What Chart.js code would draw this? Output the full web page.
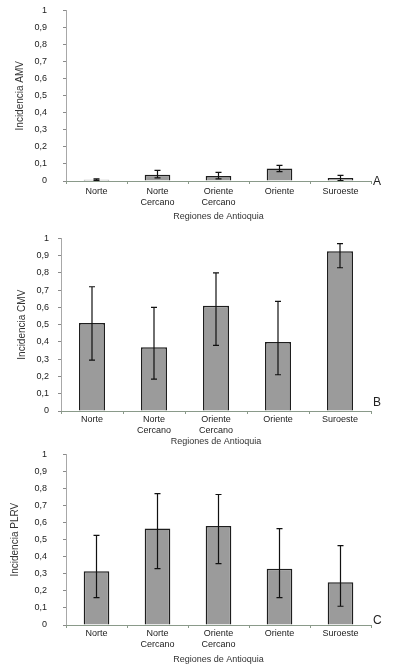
<!DOCTYPE html>
<html>
<head>
<meta charset="utf-8">
<script src="https://cdn.jsdelivr.net/npm/chart.js@4"></script>
<style>
  html,body{margin:0;padding:0;background:#fff;}
  body{width:396px;height:670px;position:relative;overflow:hidden;font-family:"Liberation Sans",Arial,sans-serif;}
  .panel{position:absolute;left:0;width:396px;}
  .letter{position:absolute;font-size:12px;color:#222;}
</style>
</head>
<body>
<div class="panel" id="pA" style="top:-11px;height:235px;"><canvas id="cA"></canvas></div>
<div class="panel" id="pB" style="top:224px;height:224px;"><canvas id="cB"></canvas></div>
<div class="panel" id="pC" style="top:433px;height:237px;"><canvas id="cC"></canvas></div>
<div class="letter" style="left:373px;top:174px;">A</div>
<div class="letter" style="left:373px;top:395px;">B</div>
<div class="letter" style="left:373px;top:613px;">C</div>
<script>
// ---- data ----
const categories = [["Norte"], ["Norte", "Cercano"], ["Oriente", "Cercano"], ["Oriente"], ["Suroeste"]];
const yTickLabels = ["0", "0,1", "0,2", "0,3", "0,4", "0,5", "0,6", "0,7", "0,8", "0,9", "1"];

const amvValues = [0.008, 0.037, 0.030, 0.073, 0.017];
const amvErrLow = [0.004, 0.018, 0.012, 0.055, 0.003];
const amvErrHigh = [0.012, 0.062, 0.050, 0.092, 0.033];

const cmvValues = [0.51, 0.37, 0.61, 0.40, 0.925];
const cmvErrLow = [0.295, 0.185, 0.38, 0.21, 0.83];
const cmvErrHigh = [0.72, 0.60, 0.80, 0.635, 0.97];

const plrvValues = [0.315, 0.565, 0.58, 0.33, 0.25];
const plrvErrLow = [0.16, 0.33, 0.36, 0.16, 0.11];
const plrvErrHigh = [0.525, 0.77, 0.765, 0.565, 0.465];

const xTitle = "Regiones de Antioquia";

const FONT = "'Liberation Sans', Arial, sans-serif";

const errorBarPlugin = {
  id: 'errorBars',
  afterDatasetsDraw(chart, args, opts) {
    const ctx = chart.ctx;
    const xs = chart.scales.x, ys = chart.scales.y;
    ctx.save();
    ctx.strokeStyle = '#111';
    ctx.lineWidth = 1.2;
    opts.low.forEach((lo, i) => {
      const hi = opts.high[i];
      const x = xs.getPixelForValue(i);
      const y1 = ys.getPixelForValue(lo), y2 = ys.getPixelForValue(hi);
      ctx.beginPath();
      ctx.moveTo(x, y1); ctx.lineTo(x, y2);
      ctx.moveTo(x - 3, y1); ctx.lineTo(x + 3, y1);
      ctx.moveTo(x - 3, y2); ctx.lineTo(x + 3, y2);
      ctx.stroke();
    });
    ctx.restore();
  }
};

function makeChart(id, values, lo, hi, yTitle, cfg) {
  return new Chart(document.getElementById(id), {
    type: 'bar',
    data: {
      labels: categories,
      datasets: [{
        data: values,
        backgroundColor: '#9b9b9b',
        borderColor: '#1e1e1e',
        borderWidth: 1.5,
        barPercentage: 0.42,
        categoryPercentage: 1.0
      }]
    },
    plugins: [errorBarPlugin],
    options: {
      responsive: true,
      maintainAspectRatio: false,
      animation: false,
      layout: { padding: { top: cfg.padTop, right: cfg.padRight, left: 0, bottom: cfg.padBottom } },
      plugins: {
        legend: { display: false },
        tooltip: { enabled: false },
        errorBars: { low: lo, high: hi }
      },
      scales: {
        y: {
          min: 0, max: 1,
          afterFit(s) { s.width = cfg.axisLeft; },
          ticks: {
            stepSize: 0.1,
            padding: cfg.yTickPad,
            color: '#222',
            font: { family: FONT, size: 9 },
            callback: (v, i) => yTickLabels[i]
          },
          grid: { display: true, drawOnChartArea: false, drawTicks: true, tickLength: 3, color: '#8a8a8a', lineWidth: 1 },
          border: { display: true, color: '#a8a8a8', width: 1 },
          title: {
            display: true, text: yTitle, color: '#333',
            font: { family: FONT, size: 10 },
            padding: { top: cfg.yTitlePad, bottom: 0 }
          }
        },
        x: {
          afterFit(s) { s.height = cfg.xHeight; },
          ticks: {
            padding: cfg.xTickPad,
            color: '#222',
            maxRotation: 0,
            autoSkip: false,
            font: { family: FONT, size: 9, lineHeight: 1.2 }
          },
          grid: { display: true, offset: true, drawOnChartArea: false, drawTicks: true, tickLength: 3, color: '#8a9a8a' },
          border: { display: true, color: '#8a9a8a', width: 1 },
          title: {
            display: true, text: xTitle, color: '#333',
            font: { family: FONT, size: 9 },
            padding: { top: 0, bottom: cfg.xTitlePad }
          }
        }
      }
    }
  });
}

makeChart('cA', amvValues, amvErrLow, amvErrHigh, 'Incidencia AMV',
  { padTop: 0, padRight: 25, padBottom: 0, axisLeft: 66, yTickPad: 16, yTitlePad: 14, xHeight: 43, xTickPad: 2, xTitlePad: 2 });
makeChart('cB', cmvValues, cmvErrLow, cmvErrHigh, 'Incidencia CMV',
  { padTop: 13, padRight: 25, padBottom: 0, axisLeft: 61, yTickPad: 9, yTitlePad: 16, xHeight: 37, xTickPad: 0, xTitlePad: 1 });
makeChart('cC', plrvValues, plrvErrLow, plrvErrHigh, 'Incidencia PLRV',
  { padTop: 0, padRight: 25, padBottom: 0, axisLeft: 66, yTickPad: 16, yTitlePad: 9, xHeight: 45, xTickPad: 0, xTitlePad: 5 });
</script>
</body>
</html>
